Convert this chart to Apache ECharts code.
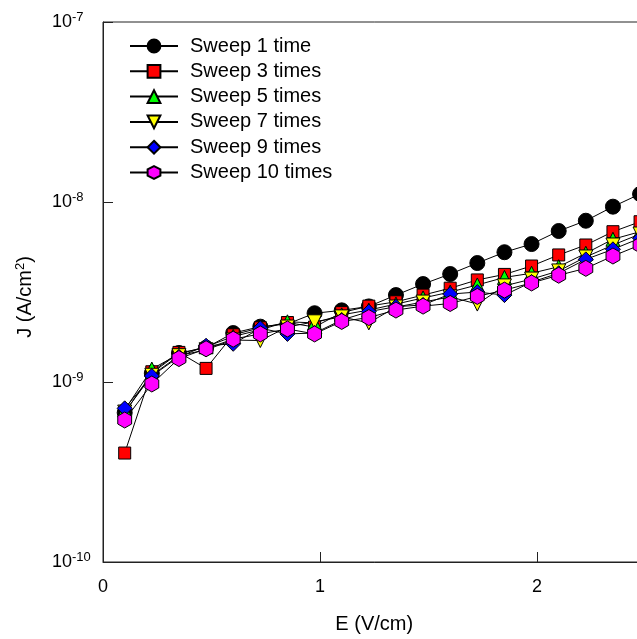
<!DOCTYPE html>
<html>
<head>
<meta charset="utf-8">
<script src="https://cdn.jsdelivr.net/npm/echarts@6/dist/echarts.min.js"></script>
<style>
html,body{margin:0;padding:0;overflow:hidden;background:#fff;}
#chart{width:700px;height:639px;}
</style>
</head>
<body>
<div id="chart"></div>
<script>
// Electric field E (V/cm)
const fieldE = [0.1, 0.225, 0.35, 0.475, 0.6, 0.725, 0.85, 0.975, 1.1, 1.225, 1.35, 1.475, 1.6, 1.725, 1.85, 1.975, 2.1, 2.225, 2.35, 2.475];
// Current density J (A/cm^2)
const sweep1  = [6.75e-10, 1.12e-9, 1.45e-9, 1.55e-9, 1.87e-9, 2.03e-9, 2.10e-9, 2.41e-9, 2.50e-9, 2.63e-9, 3.04e-9, 3.50e-9, 3.98e-9, 4.58e-9, 5.26e-9, 5.84e-9, 6.90e-9, 7.87e-9, 9.42e-9, 1.108e-8];
const sweep3  = [4.03e-10, 1.14e-9, 1.46e-9, 1.19e-9, 1.83e-9, 2.00e-9, 2.14e-9, 2.02e-9, 2.43e-9, 2.64e-9, 2.79e-9, 3.04e-9, 3.32e-9, 3.69e-9, 3.96e-9, 4.41e-9, 5.08e-9, 5.77e-9, 6.84e-9, 7.77e-9];
const sweep5  = [6.99e-10, 1.18e-9, 1.43e-9, 1.57e-9, 1.79e-9, 1.95e-9, 2.16e-9, 2.13e-9, 2.36e-9, 2.51e-9, 2.71e-9, 2.93e-9, 3.16e-9, 3.46e-9, 3.81e-9, 4.02e-9, 4.37e-9, 5.19e-9, 6.21e-9, 6.84e-9];
const sweep7  = [6.81e-10, 1.09e-9, 1.40e-9, 1.51e-9, 1.71e-9, 1.70e-9, 2.02e-9, 2.16e-9, 2.30e-9, 2.13e-9, 2.61e-9, 2.78e-9, 2.97e-9, 2.71e-9, 3.42e-9, 3.73e-9, 4.14e-9, 4.95e-9, 5.77e-9, 6.64e-9];
const sweep9  = [7.14e-10, 1.08e-9, 1.38e-9, 1.59e-9, 1.63e-9, 1.99e-9, 1.85e-9, 1.87e-9, 2.21e-9, 2.46e-9, 2.62e-9, 2.68e-9, 3.08e-9, 3.16e-9, 3.04e-9, 3.59e-9, 4.02e-9, 4.80e-9, 5.46e-9, 6.29e-9];
const sweep10 = [6.15e-10, 9.75e-10, 1.35e-9, 1.53e-9, 1.73e-9, 1.85e-9, 1.97e-9, 1.85e-9, 2.17e-9, 2.28e-9, 2.51e-9, 2.64e-9, 2.73e-9, 2.99e-9, 3.24e-9, 3.55e-9, 3.92e-9, 4.28e-9, 5.01e-9, 5.77e-9];
const seriesNames = ['Sweep 1 time', 'Sweep 3 times', 'Sweep 5 times', 'Sweep 7 times', 'Sweep 9 times', 'Sweep 10 times'];
const xTicks = [0, 1, 2];
const yTickExponents = [-10, -9, -8, -7];

const FONT = '"Liberation Sans", Arial, Helvetica, sans-serif';
const hexPath = 'path://M0,-1L0.866,-0.5L0.866,0.5L0,1L-0.866,0.5L-0.866,-0.5Z';
const styles = [
  {symbol: 'circle', size: 15, color: '#000000', rotate: 0},
  {symbol: 'rect', size: 12, color: '#ff0000', rotate: 0},
  {symbol: 'triangle', size: 14, color: '#00ff00', rotate: 0},
  {symbol: 'triangle', size: 14, color: '#ffff00', rotate: 180},
  {symbol: 'diamond', size: 15, color: '#0000ff', rotate: 0},
  {symbol: hexPath, size: 16, color: '#ff00ff', rotate: 0}
];
const allData = [sweep1, sweep3, sweep5, sweep7, sweep9, sweep10];

const series = allData.map((vals, k) => ({
  name: seriesNames[k],
  type: 'line',
  data: fieldE.map((x, i) => [x, vals[i]]),
  symbol: styles[k].symbol,
  symbolSize: styles[k].size,
  symbolRotate: styles[k].rotate,
  symbolKeepAspect: true,
  showAllSymbol: true,
  lineStyle: {color: '#000', width: 1},
  itemStyle: {color: styles[k].color, borderColor: '#000', borderWidth: 1, opacity: 1},
  emphasis: {disabled: true},
  animation: false
}));

const chart = echarts.init(document.getElementById('chart'), null, {renderer: 'canvas'});
chart.setOption({
  animation: false,
  backgroundColor: '#fff',
  grid: {left: 103, top: 22, right: 54.5, bottom: 76, show: true, borderColor: '#222', borderWidth: 1, backgroundColor: 'transparent'},
  legend: {
    orient: 'vertical', left: 124, top: 31,
    itemWidth: 48, itemHeight: 16, itemGap: 5.3,
    selectedMode: false,
    data: seriesNames,
    textStyle: {fontSize: 20, fontFamily: FONT, color: '#000', padding: [0, 0, 0, 7]}
  },
  xAxis: {
    type: 'value', min: 0, max: 2.5, interval: 1,
    name: 'E (V/cm)', nameLocation: 'middle', nameGap: 52,
    nameTextStyle: {fontSize: 20, fontFamily: FONT, color: '#000'},
    axisLine: {show: true, lineStyle: {color: '#222', width: 1}},
    axisTick: {show: true, inside: true, length: 10, lineStyle: {color: '#222'}},
    axisLabel: {margin: 16, fontSize: 18, fontFamily: FONT, color: '#000', showMaxLabel: false,
      formatter: v => (xTicks.indexOf(v) >= 0 ? String(v) : '')},
    splitLine: {show: false}
  },
  yAxis: {
    type: 'log', logBase: 10, min: Math.pow(10, yTickExponents[0]), max: Math.pow(10, yTickExponents[yTickExponents.length - 1]),
    name: 'J (A/cm{s|2})', nameLocation: 'middle', nameGap: 66, nameRotate: 90,
    nameTextStyle: {fontSize: 20, fontFamily: FONT, color: '#000', padding: [0, 10, 0, 0],
      rich: {s: {fontSize: 13, fontFamily: FONT, color: '#000', padding: [0, 0, 10, 0]}}},
    axisLine: {show: true, lineStyle: {color: '#222', width: 1}},
    axisTick: {show: true, inside: true, length: 10, lineStyle: {color: '#222'}},
    axisLabel: {margin: 51, align: 'left', color: '#000',
      formatter: v => '{b|10}{s|' + Math.round(Math.log10(v)) + '}',
      rich: {
        b: {fontSize: 18, fontFamily: FONT, color: '#000'},
        s: {fontSize: 13, fontFamily: FONT, color: '#000', padding: [0, 0, 10, 0]}
      }},
    splitLine: {show: false}
  },
  series: series
});
</script>
</body>
</html>
